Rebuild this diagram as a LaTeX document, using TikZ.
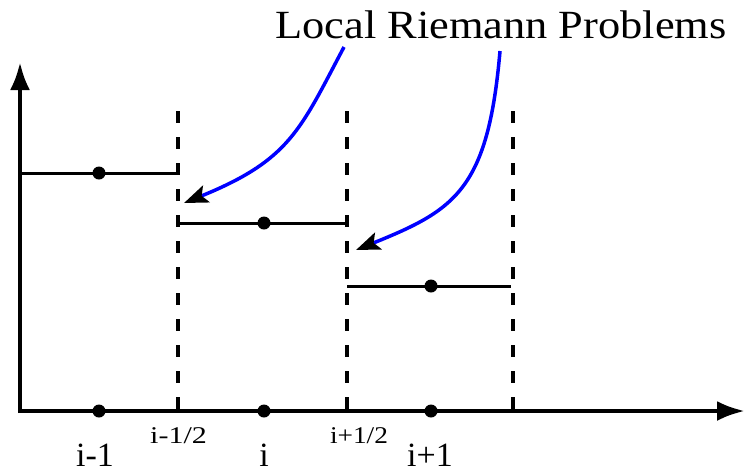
\documentclass[tikz,border=0pt]{standalone}
\usepackage{fontspec}
\setmainfont{Liberation Serif}
\usetikzlibrary{arrows.meta}
\begin{document}
\begin{tikzpicture}[x=1pt,y=-1pt,
  axis/.style={line width=4.5pt,-{Latex[length=28pt,width=20pt]}},
  iface/.style={line width=4pt,dash pattern=on 12pt off 14pt,dash phase=0pt},
  cell/.style={line width=3pt},
  dotn/.style={circle,fill=black,inner sep=0pt,minimum size=13pt},
  rp/.style={blue,line width=3.5pt,-{Stealth[length=24pt,width=18pt,inset=5pt,black]}},
  big/.style={font=\fontsize{34}{36}\selectfont,anchor=base,inner sep=0pt},
  small/.style={font=\fontsize{24}{28}\selectfont,anchor=base,inner sep=0pt},
  ttl/.style={font=\fontsize{40}{44}\selectfont,anchor=base}]
\useasboundingbox (0,0) rectangle (746,472);
% axes
\coordinate (O) at (20,411);
\coordinate (Ytop) at (20,62);
\coordinate (Xend) at (745,411);
\coordinate (Obot) at (20,413);
\draw[axis] (Obot) -- (Ytop);
\draw[axis] (O) -- (Xend);
% interfaces
\coordinate (a1) at (178,111); \coordinate (a0) at (178,411);
\coordinate (b1) at (347,111); \coordinate (b0) at (347,411);
\coordinate (c1) at (513,111); \coordinate (c0) at (513,411);
\draw[iface] (a1) -- (a0);
\draw[iface] (b1) -- (b0);
\draw[iface] (c1) -- (c0);
% cell values
\coordinate (l0) at (20,173); \coordinate (l1) at (178,173);
\coordinate (m0) at (178,223); \coordinate (m1) at (347,223);
\coordinate (r0) at (347,286); \coordinate (r1) at (511,286);
\draw[cell] (l0) -- (l1);
\draw[cell] (m0) -- (m1);
\draw[cell] (r0) -- (r1);
\node[dotn] (d1) at (99,173) {};
\node[dotn] (d2) at (264,223) {};
\node[dotn] (d3) at (431,286) {};
\node[dotn] (x1) at (99,411) {};
\node[dotn] (x2) at (264,411) {};
\node[dotn] (x3) at (431,411) {};
% labels
\node[big] (t1) at (95,466) {i-1};
\node[small] (t2) at (178.5,443) {\scalebox{1.25}[1]{i-1/2}};
\node[big] (t3) at (264,466) {i};
\node[small] (t4) at (359,443) {\scalebox{1.14}[1]{i+1/2}};
\node[big] (t5) at (430,466) {i+1};
\node[ttl] (title) at (501,38) {\scalebox{1.11}[1]{Local Riemann Problems}};
% arrows
\coordinate (s1) at (344,47); \coordinate (e1) at (184,203);
\coordinate (s2) at (500,51); \coordinate (e2) at (356,250);
\draw[rp] (s1) .. controls (300,130) and (290,160) .. (e1);
\draw[rp] (s2) .. controls (488,190) and (455,210) .. (e2);
\end{tikzpicture}
\end{document}
